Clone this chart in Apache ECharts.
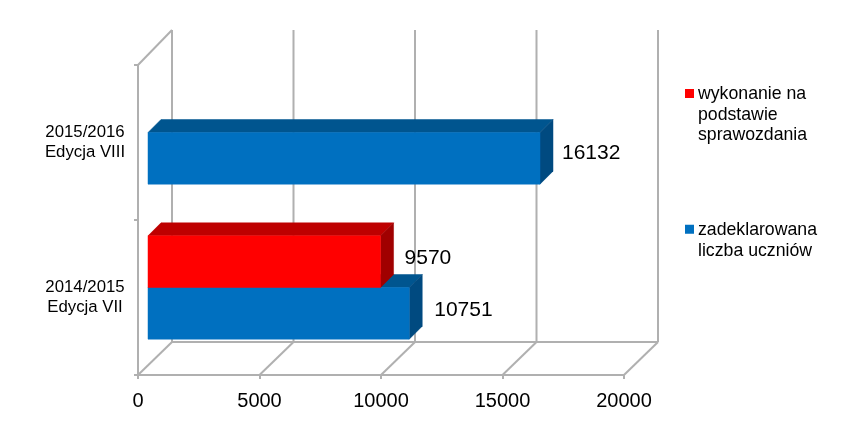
<!DOCTYPE html>
<html><head><meta charset="utf-8">
<style>html,body{margin:0;padding:0;background:#fff}#c{width:866px;height:436px}</style>
<script src="https://cdn.jsdelivr.net/npm/echarts@6/dist/echarts.min.js"></script>
</head><body><div id="c"></div>
<script>
var categories = ['2014/2015\nEdycja VII', '2015/2016\nEdycja VIII'];
var wykonanie = [9570, null];
var zadeklarowana = [10751, 16132];
var xTicks = [0, 5000, 10000, 15000, 20000];
var nameRed = 'wykonanie na\npodstawie\nsprawozdania';
var nameBlue = 'zadeklarowana\nliczba uczniów';

var FONT = '"Liberation Sans", Arial, sans-serif';
var WALL_DX = 34, WALL_DY = 33, BAR_OFF = 10, BAR_DEPTH = 13, WALL = '#b0b0b0', WALL_W = 2;

function pairs(arr) {
  var out = [];
  arr.forEach(function (v, i) { if (v != null) out.push([v, i]); });
  return out;
}
function poly(pts, fill) {
  return { type: 'polygon', shape: { points: pts }, style: { fill: fill, stroke: fill, lineWidth: 0.5 } };
}
function barRenderer(slot, front, top, side, labelNudge) {
  return function (params, api) {
    var cat = api.value(1);
    var p0 = api.coord([0, cat]);
    var p1 = api.coord([api.value(0), cat]);
    var h = api.size([0, 1])[1] / 3;
    var x0 = p0[0] + BAR_OFF, x1 = p1[0] + BAR_OFF;
    var yT = p0[1] - BAR_OFF + slot * h, yB = yT + h, d = BAR_DEPTH;
    var n = labelNudge[cat];
    return { type: 'group', children: [
      poly([[x0, yT], [x1, yT], [x1 + d, yT - d], [x0 + d, yT - d]], top),
      poly([[x1, yT], [x1 + d, yT - d], [x1 + d, yB - d], [x1, yB]], side),
      poly([[x0, yT], [x1, yT], [x1, yB], [x0, yB]], front),
      { type: 'text', x: x1 + n[0], y: (yT + yB) / 2 + n[1], z2: 50,
        style: { text: String(api.value(0)), fill: '#000', font: '21px ' + FONT, align: 'left', verticalAlign: 'middle' } }
    ] };
  };
}
function wallRenderer(params, api) {
  var cs = params.coordSys, v = api.value(0), p = api.coord([v, 0])[0];
  var yTop = cs.y, yBot = cs.y + cs.height;
  var ls = { stroke: WALL, lineWidth: WALL_W, fill: null };
  var kids = [
    { type: 'line', shape: { x1: p + WALL_DX, y1: yTop - WALL_DY - 2, x2: p + WALL_DX, y2: yBot - WALL_DY }, style: ls },
    { type: 'line', shape: { x1: p, y1: yBot, x2: p + WALL_DX, y2: yBot - WALL_DY }, style: ls }
  ];
  if (params.dataIndex === 0) {
    kids.push({ type: 'line', shape: { x1: p, y1: yTop, x2: p + WALL_DX, y2: yTop - WALL_DY - 2 }, style: ls });
    kids.push({ type: 'line', shape: { x1: p + WALL_DX, y1: yBot - WALL_DY, x2: cs.x + cs.width + WALL_DX, y2: yBot - WALL_DY }, style: ls });
  }
  return { type: 'group', children: kids };
}
function legendIcon(extra) {
  return 'path://M0,0h8v8h-8z M0,' + extra + 'h0.01';
}
var legendText = { color: '#000', fontFamily: 'Liberation Sans', fontSize: 17.7, lineHeight: 20.5, padding: [0, 0, 0, -1] };
var chart = echarts.init(document.getElementById('c'), null, { renderer: 'canvas' });
chart.setOption({
  animation: false,
  backgroundColor: '#fff',
  grid: { left: 138, right: 242, top: 65, height: 310, containLabel: false },
  xAxis: {
    type: 'value', min: 0, max: 20000, interval: 5000,
    splitLine: { show: false },
    axisLine: { show: true, onZero: false, lineStyle: { color: WALL, width: WALL_W } },
    axisTick: { show: true, length: 4, lineStyle: { color: WALL, width: WALL_W } },
    axisLabel: { color: '#000', fontFamily: 'Liberation Sans', fontSize: 20, margin: 16, formatter: function (v) { return String(v); } }
  },
  yAxis: {
    type: 'category', data: categories,
    axisLine: { show: true, lineStyle: { color: WALL, width: WALL_W } },
    axisTick: { show: true, length: 4, lineStyle: { color: WALL, width: WALL_W } },
    axisLabel: { color: '#000', fontFamily: 'Liberation Sans', fontSize: 16.8, lineHeight: 19.5, align: 'center', margin: 53 }
  },
  legend: [
    { data: [nameRed], orient: 'vertical', left: 680, top: 79, icon: legendIcon(46), itemWidth: 9, itemHeight: 52, itemGap: 0,
      selectedMode: false, textStyle: legendText },
    { data: [nameBlue], orient: 'vertical', left: 680, top: 215, icon: legendIcon(28), itemWidth: 9, itemHeight: 36, itemGap: 0,
      selectedMode: false, textStyle: legendText }
  ],
  series: [
    { name: 'walls', type: 'custom', z: 1, silent: true, clip: false, renderItem: wallRenderer,
      data: xTicks.map(function (t) { return [t, 0]; }), encode: { x: 0, y: 1 } },
    { name: nameBlue, type: 'custom', z: 3, clip: false, itemStyle: { color: '#0070C0' },
      renderItem: barRenderer(0, '#0070C0', '#00558F', '#004A80', [[25, -3], [22, -5]]),
      data: pairs(zadeklarowana), encode: { x: 0, y: 1 } },
    { name: nameRed, type: 'custom', z: 4, clip: false, itemStyle: { color: '#FF0000' },
      renderItem: barRenderer(-1, '#FF0000', '#BE0000', '#A00000', [[24, -3], [24, -3]]),
      data: pairs(wykonanie), encode: { x: 0, y: 1 } }
  ]
});
</script></body></html>
